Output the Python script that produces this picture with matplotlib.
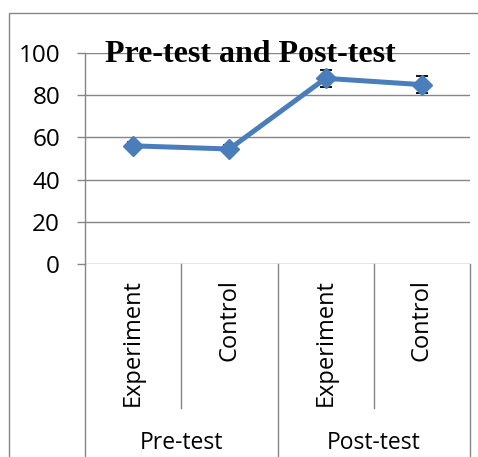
import matplotlib
matplotlib.use("Agg")
import matplotlib.pyplot as plt
from matplotlib.patches import Rectangle
import matplotlib.transforms as mtransforms

# data
grupos = ["Experiment", "Control", "Experiment", "Control"]
fases = ["Pre-test", "Post-test"]
medias = [56, 54.5, 88, 85]
erros = [2, 2, 4, 4]
y_ticks = [0, 20, 40, 60, 80, 100]

W, H = 478, 457
cinza = "#868686"
azul = "#4a7ebb"
fonte = "Open Sans"

fig = plt.figure(figsize=(W / 100, H / 100), dpi=100)
ax = fig.add_axes([85 / W, (H - 264) / H, (470 - 85) / W, (264 - 53) / H])

x = list(range(len(medias)))
ax.errorbar(x, medias, yerr=erros, fmt="none", ecolor="black", elinewidth=1.3,
            capsize=4.5, capthick=1.3, zorder=2)
ax.plot(x, medias, color=azul, lw=3.6, marker="D", markersize=10, zorder=3)

ax.set_xlim(-0.5, len(medias) - 0.5)
ax.set_ylim(0, 100)
ax.set_yticks(y_ticks)
ax.set_yticklabels([str(v) for v in y_ticks], fontsize=17.5, family=fonte)
ax.set_xticks([])
ax.yaxis.grid(True, color=cinza, lw=1)
ax.set_axisbelow(True)
ax.tick_params(axis="y", length=6, width=1, color=cinza, pad=12)
for lado in ["top", "right", "bottom"]:
    ax.spines[lado].set_visible(False)
ax.spines["left"].set_color(cinza)
ax.spines["left"].set_linewidth(1)

# category axis drawn by hand, below the plot
trans = mtransforms.blended_transform_factory(ax.transData, ax.transAxes)
for i, g in enumerate(grupos):
    ax.text(i, -0.071, g, transform=trans, rotation=90, rotation_mode="anchor",
            ha="right", va="center", fontsize=17, family=fonte, clip_on=False)
for i in range(len(grupos) + 1):
    xb = i - 0.5
    fim = -1.2 if i % 2 == 0 else -0.682
    ax.plot([xb, xb], [0, fim], transform=trans, color=cinza, lw=1, clip_on=False)
for j, f in enumerate(fases):
    ax.text(2 * j + 0.5, -0.85, f, transform=trans, ha="center", va="center",
            fontsize=16.5, family=fonte, clip_on=False)

fig.text(250 / W, 1 - 55 / H, "Pre-test and Post-test", ha="center", va="center",
         fontsize=23, fontweight="bold", family="Liberation Serif")

fig.patches.append(Rectangle((9 / W, -0.05), 1.1, 1 - 13 / H + 0.05,
                             transform=fig.transFigure, fill=False,
                             edgecolor=cinza, lw=1))

fig.savefig("out.png", dpi=100)
